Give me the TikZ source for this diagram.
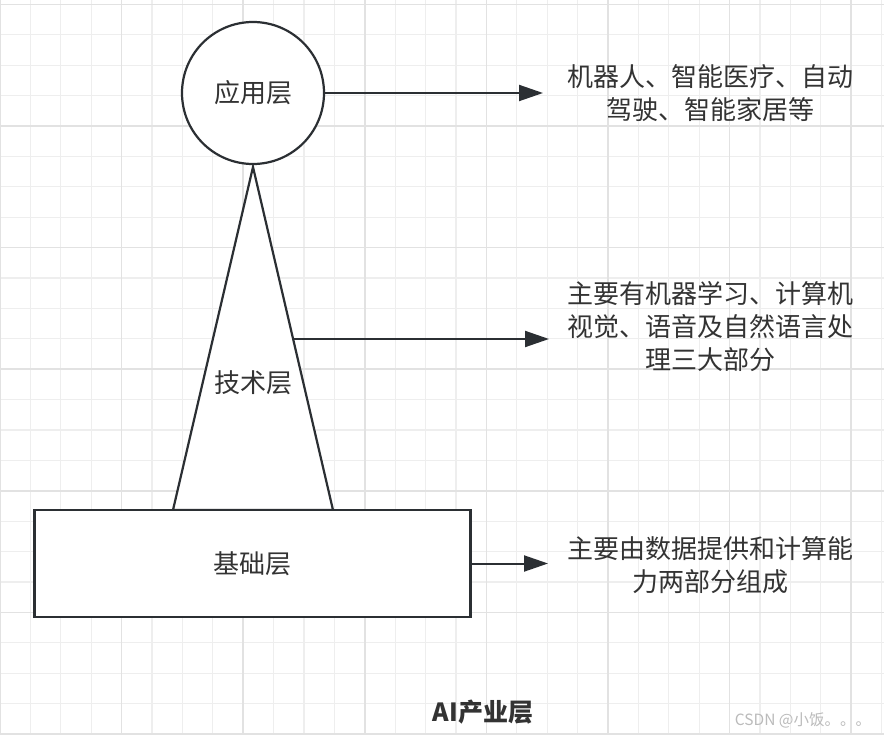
\documentclass[tikz,border=0pt]{standalone}
\usepackage{fontspec}
\setmainfont{Noto Sans CJK SC}
\usetikzlibrary{arrows.meta}
\definecolor{gridminor}{HTML}{EEEEEE}
\definecolor{gridmajor}{HTML}{E2E2E2}
\definecolor{ink}{HTML}{2B2F33}
\definecolor{txt}{HTML}{333333}
\definecolor{wm}{HTML}{BBBBBB}
\begin{document}
\begin{tikzpicture}[x=1pt,y=-1pt,
  shapeline/.style={draw=ink, line width=2.2pt, fill=white},
  conn/.style={draw=ink, line width=2pt, -{Triangle[length=24pt,width=16pt]}},
  lbl/.style={text=txt, font=\fontsize{26}{33}\selectfont, align=center, inner sep=0pt},
]
\useasboundingbox (0,0) rectangle (884,735);
\fill[white] (0,0) rectangle (884,735);
% grid
\foreach \i in {0,...,29} \draw[gridminor, line width=1.3pt] ({30.4*\i},0) -- ({30.4*\i},735);
\foreach \j in {0,...,24} \draw[gridminor, line width=1.3pt] (0,{4.4+30.4*\j}) -- (884,{4.4+30.4*\j});
\foreach \i in {0,4,...,28} \draw[gridmajor, line width=1.5pt] ({30.4*\i},0) -- ({30.4*\i},735);
\foreach \j in {0,4,...,24} \draw[gridmajor, line width=1.5pt] (0,{4.4+30.4*\j}) -- (884,{4.4+30.4*\j});

% shapes
\coordinate (apex) at (253,167);
\coordinate (bl) at (173,510);
\coordinate (br) at (333,510);
\path[shapeline] (apex) -- (bl) -- (br) -- cycle;
\node[shapeline, circle, minimum size=142pt, inner sep=0pt, lbl] (app) at (253,93) {应用层};
\node[shapeline, rectangle, minimum width=436pt, minimum height=107pt, lbl] (base) at (252.5,563.5) {基础层};
\node[lbl] (tech) at (253,383) {技术层};

% right texts
\node[lbl] (t1) at (710,93) {机器人、智能医疗、自动\\驾驶、智能家居等};
\node[lbl] (t2) at (710,327) {主要有机器学习、计算机\\视觉、语音及自然语言处\\理三大部分};
\node[lbl] (t3) at (710,565) {主要由数据提供和计算能\\力两部分组成};

% connectors
\coordinate (e1) at (543,93);
\coordinate (techedge) at (294,339);
\coordinate (e2) at (549,339);
\coordinate (e3) at (548,563.5);
\draw[conn] (app.east) -- (e1);
\draw[conn] (techedge) -- (e2);
\draw[conn] (base.east) -- (e3);

% title and watermark
\node[text=txt, font=\bfseries\fontsize{25}{28}\selectfont, inner sep=0pt] (title) at (483,712) {AI产业层};
\node[text=wm, font=\fontsize{15.5}{18}\selectfont, inner sep=0pt] (wmark) at (803,720) {CSDN @小饭。。。};
\end{tikzpicture}
\end{document}
